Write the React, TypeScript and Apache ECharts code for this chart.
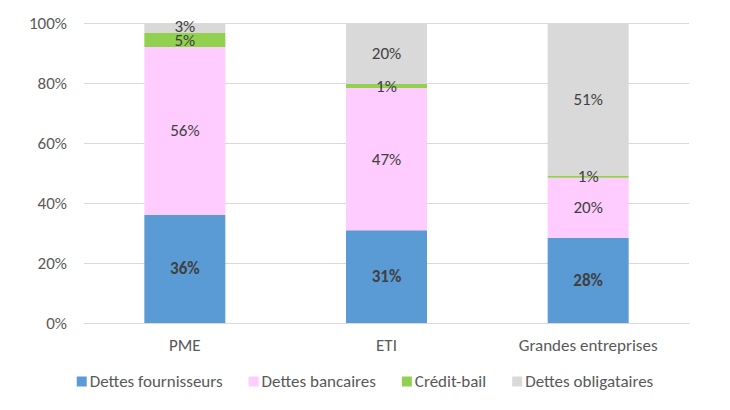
import React, { useEffect, useRef } from "react";
import * as echarts from "echarts";

const categories = ["PME", "ETI", "Grandes entreprises"];
const seriesNames = ["Dettes fournisseurs", "Dettes bancaires", "Crédit-bail", "Dettes obligataires"];
const fournisseurs = [36.1, 30.9, 28.4];
const bancaires = [55.9, 47.4, 20.0];
const creditBail = [4.7, 1.4, 0.8];
const obligataires = [3.3, 20.3, 50.8];
const yTicks = [0, 20, 40, 60, 80, 100];

const colors = ["#5B9BD5", "#FFCCFF", "#92D050", "#D9D9D9"];
const FONT = "Carlito, Lato, 'Open Sans', sans-serif";
const FS = 17;

export default function App() {
  const ref = useRef<HTMLDivElement>(null);
  useEffect(() => {
    const chart = echarts.init(ref.current!, null, { renderer: "svg" });
    const data = [fournisseurs, bancaires, creditBail, obligataires];
    // small vertical nudges so the tightly stacked PME labels do not collide
    const nudges: Record<string, number> = { "2-0": 1, "3-0": -1 };
    chart.setOption({
      animation: false,
      textStyle: { fontFamily: FONT },
      grid: { left: 84, right: 41, top: 23, bottom: 87 },
      legend: {
        bottom: 15,
        left: "center",
        itemWidth: 10,
        itemHeight: 10,
        itemGap: 26,
        icon: "rect",
        textStyle: { color: "#595959", fontSize: FS, fontFamily: FONT, padding: [0, 0, 0, -2] },
        data: seriesNames,
      },
      xAxis: {
        type: "category",
        data: categories,
        axisLine: { lineStyle: { color: "#D9D9D9", width: 1 } },
        axisTick: { show: false },
        axisLabel: { color: "#595959", fontSize: FS, margin: 14, fontFamily: FONT },
      },
      yAxis: {
        type: "value",
        min: yTicks[0],
        max: yTicks[yTicks.length - 1],
        interval: 20,
        axisLine: { show: false },
        axisTick: { show: false },
        splitLine: { lineStyle: { color: "#D9D9D9", width: 1 } },
        axisLabel: {
          color: "#595959",
          fontSize: FS,
          margin: 17,
          fontFamily: FONT,
          formatter: (v: number) => `${v}%`,
        },
      },
      series: seriesNames.map((name, i) => ({
        name,
        type: "bar",
        stack: "total",
        barWidth: 81,
        data: data[i].map((v, j) => {
          const n = nudges[`${i}-${j}`];
          return n ? { value: v, label: { offset: [0, n] } } : v;
        }),
        itemStyle: { color: colors[i] },
        label: {
          show: true,
          position: "inside",
          color: "#404040",
          fontSize: FS,
          lineHeight: 13,
          fontWeight: i === 0 ? "bold" : "normal",
          fontFamily: FONT,
          formatter: (p: any) => `${Math.round(p.value)}%`,
        },
      })),
    });
    return () => chart.dispose();
  }, []);
  return (
    <div
      ref={ref}
      style={{ position: "fixed", left: 0, top: 0, width: 730, height: 410, background: "#fff" }}
    />
  );
}
